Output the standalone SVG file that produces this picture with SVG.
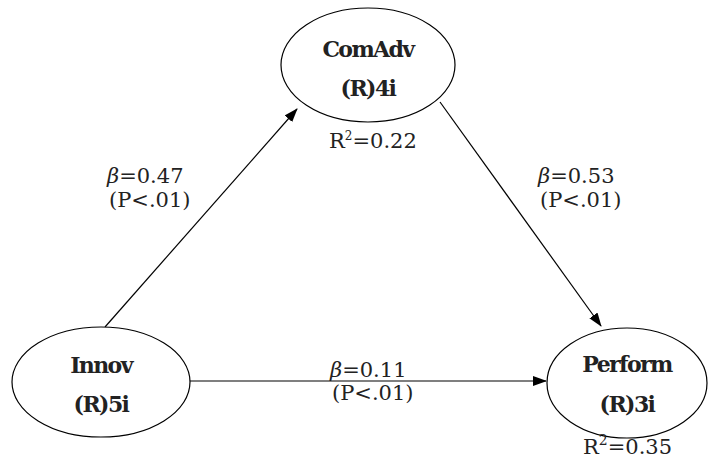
<svg xmlns="http://www.w3.org/2000/svg" width="711" height="459" viewBox="0 0 711 459">
<style>
.node ellipse{fill:#fff;stroke:#000;stroke-width:1.2}
.nt{font-family:"DejaVu Serif",serif;font-weight:bold;font-size:22px;letter-spacing:-1.6px;text-anchor:middle;fill:#222}
.lb{font-family:"DejaVu Serif",serif;font-size:21px;fill:#222}
.edge{stroke:#000;stroke-width:1.2;fill:none;marker-end:url(#ah)}
</style>
<defs>
<marker id="ah" markerWidth="14" markerHeight="10" refX="13" refY="5" orient="auto" markerUnits="userSpaceOnUse">
<path d="M0,0 L14,5 L0,10 Z" fill="#000"/>
</marker>
</defs>
<rect width="711" height="459" fill="#fff"/>
<g id="connectors">
<line class="edge" x1="105" y1="327" x2="297" y2="109"/>
<line class="edge" x1="440" y1="102" x2="601" y2="326"/>
<line class="edge" x1="190" y1="381" x2="546" y2="381"/>
</g>
<g id="ComAdv" class="node">
<ellipse cx="368" cy="65" rx="87" ry="57"/>
<text class="nt" x="368" y="57">ComAdv</text>
<text class="nt" x="368" y="96">(R)4i</text>
<text class="lb" x="329" y="148" font-size="21">R<tspan font-size="12" dy="-8">2</tspan><tspan dy="8">=0.22</tspan></text>
</g>
<g id="Innov" class="node">
<ellipse cx="101" cy="382" rx="89" ry="55"/>
<text class="nt" x="101" y="373">Innov</text>
<text class="nt" x="101" y="412">(R)5i</text>
</g>
<g id="Perform" class="node">
<ellipse cx="627" cy="383" rx="80" ry="55"/>
<text class="nt" x="627" y="372">Perform</text>
<text class="nt" x="627" y="412">(R)3i</text>
<text class="lb" x="583" y="454" font-size="24">R<tspan font-size="14" dy="-9">2</tspan><tspan dy="9">=0.35</tspan></text>
</g>
<g id="labels">
<text class="lb" x="107" y="183"><tspan font-style="italic">β</tspan>=0.47</text>
<text class="lb" x="109" y="207">(P&lt;.01)</text>
<text class="lb" x="538" y="183"><tspan font-style="italic">β</tspan>=0.53</text>
<text class="lb" x="540" y="207">(P&lt;.01)</text>
<text class="lb" x="330" y="377"><tspan font-style="italic">β</tspan>=0.11</text>
<text class="lb" x="332" y="400">(P&lt;.01)</text>
</g>
</svg>
